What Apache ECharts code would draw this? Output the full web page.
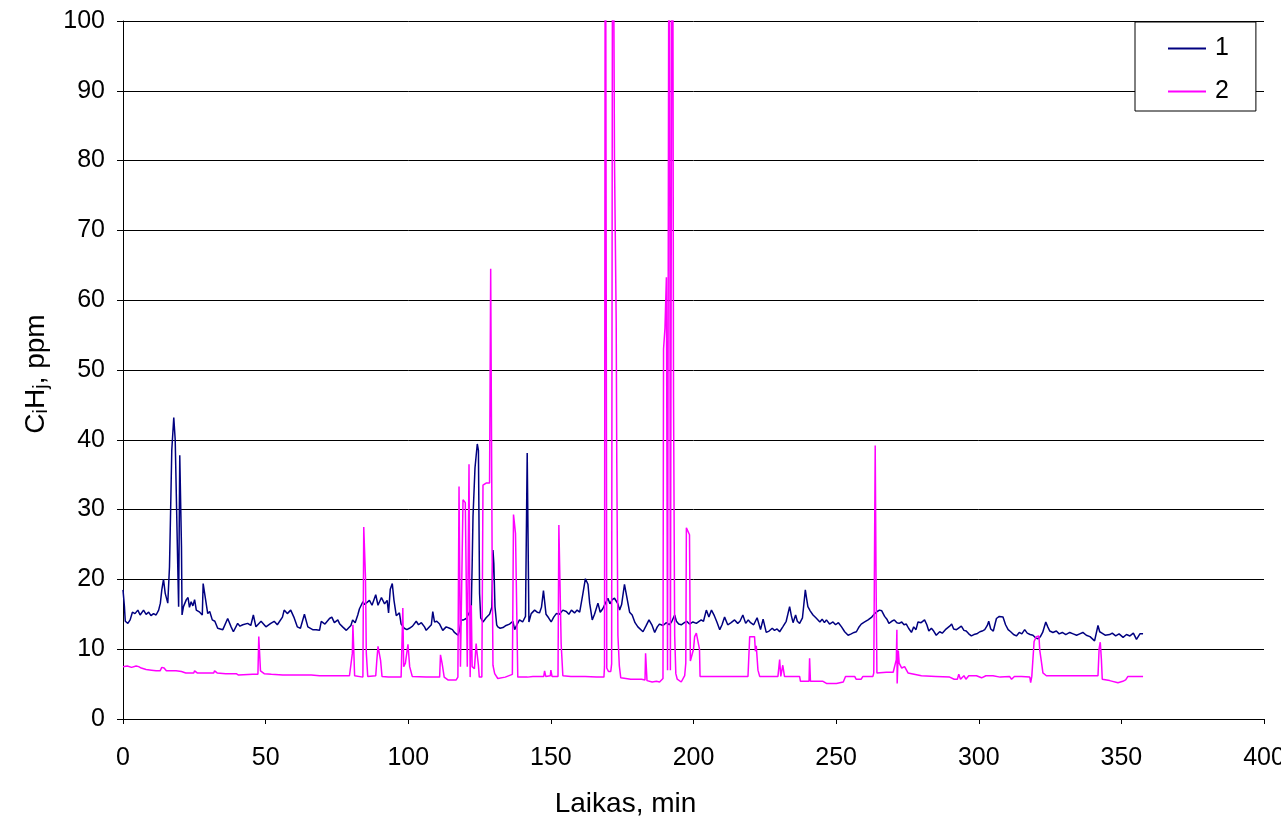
<!DOCTYPE html>
<html>
<head>
<meta charset="utf-8">
<title>CiHj, ppm</title>
<script src="https://cdn.jsdelivr.net/npm/echarts@6/dist/echarts.min.js"></script>
<style>
  html, body { margin: 0; padding: 0; background: #fff; overflow: hidden; }
  #chart { width: 1281px; height: 822px; }
</style>
</head>
<body>
<div id="chart"></div>
<script>
// Series 1: time (min) and concentration (ppm)
const t1 = [0,0.5,0.8,1.7,2.5,3.3,4.2,5.2,6.0,7.2,8.1,9.0,9.8,10.7,11.6,12.5,13.1,13.6,14.2,14.8,15.7,16.3,16.7,17.1,17.8,18.3,19.2,19.5,19.9,20.5,20.7,21.2,22.2,22.8,23.3,23.9,24.5,25.1,25.7,26.9,27.8,28.1,28.8,29.7,30.4,31.3,32.2,33.2,35.0,36.7,37.9,38.7,40.2,41.0,42.0,43.7,44.8,45.7,46.6,48.4,50.1,51.8,53.0,54.1,55.9,56.5,57.6,58.8,59.9,61.1,62.2,63.6,64.8,65.4,66.5,67.7,68.9,69.5,70.8,72.4,73.2,74.1,75.3,76.0,77.0,78.3,78.8,79.9,80.5,81.4,82.3,82.9,84.1,84.7,85.3,86.4,87.3,88.6,89.4,90.6,91.7,92.6,93.1,93.7,94.4,95.0,95.8,96.9,97.5,98.6,99.5,100.4,101.5,102.8,103.6,104.6,105.7,106.3,108.1,108.6,109.2,110.0,111.0,112.1,113.3,114.5,115.5,116.2,117.4,118.0,118.6,119.4,120.3,120.9,121.5,122.1,122.4,122.7,123.4,124.2,124.6,125.0,125.4,126.2,127.3,128.5,129.3,129.7,130.0,130.4,131.0,131.4,132.2,133.2,134.3,135.5,136.7,137.3,138.2,139.0,140.1,141.1,141.7,142.3,143.1,144.3,145.2,146.0,146.7,147.4,148.3,149.2,150.1,151.0,151.9,153.0,154.2,155.4,156.3,157.2,158.3,159.2,160.1,161.2,162.1,163.0,163.6,164.5,165.3,166.5,167.3,168.2,169.0,170.0,170.7,171.5,172.3,172.9,173.5,174.1,174.8,175.8,176.5,177.6,178.5,179.5,180.5,182.3,183.3,184.4,185.4,186.4,187.3,188.1,189.3,190.5,191.5,192.3,193.4,194.0,194.8,195.7,196.8,197.6,198.6,199.8,201.0,202.7,203.5,204.5,205.4,206.3,207.3,208.2,209.2,210.0,210.9,212.0,213.2,214.4,215.5,216.3,217.3,218.3,219.2,220.0,221.1,222.3,223.5,224.4,225.5,226.5,227.6,228.4,229.3,230.2,231.3,232.5,233.7,234.3,234.9,235.8,236.4,237.2,238.2,238.7,239.2,239.6,240.1,240.9,241.9,242.9,244.3,245.1,245.9,246.6,247.7,248.9,249.8,250.8,251.9,253.0,254.2,255.3,256.3,257.1,257.9,258.8,260.0,261.2,262.5,263.5,264.4,265.2,266.0,267.0,267.8,268.5,269.5,270.4,271.3,272.1,273.0,273.8,274.6,275.4,276.4,277.2,278.0,278.7,279.8,281.0,281.8,282.5,283.4,284.2,285.1,286.3,287.2,288.3,289.8,290.5,291.2,292.2,293.9,294.8,295.6,296.5,297.4,298.3,299.3,300.4,301.2,302.1,303.0,303.5,304.2,305.1,306.2,307.2,308.5,309.4,310.3,311.2,312.2,313.2,314.2,315.1,316.1,317.0,318.0,319.0,320.0,320.8,321.6,322.4,323.5,324.2,324.9,326.0,327.2,328.2,329.3,330.5,331.9,333.1,334.3,335.4,336.5,337.7,339.0,340.6,341.8,342.4,343.2,344.3,345.9,346.8,348.0,349.2,350.6,351.8,353.0,354.2,355.3,356.5,357.6];
const c1 = [18.5,16.1,14.0,13.7,14.2,15.3,15.1,15.6,14.9,15.6,15.0,15.3,14.8,15.1,14.9,15.6,16.6,18.5,20.0,18.0,16.6,21.8,30.0,38.5,43.2,40.0,21.8,16.1,37.8,24.7,14.9,16.1,17.1,17.4,16.0,16.8,16.2,17.1,15.6,15.3,14.9,19.4,19.4,15.1,15.4,14.2,14.0,13.0,12.8,14.4,13.2,12.5,13.7,13.3,13.5,13.7,13.4,14.9,13.2,14.0,13.2,13.7,14.0,13.5,14.6,15.6,15.1,15.6,14.6,13.2,13.0,15.0,13.2,13.3,12.8,12.8,12.7,14.0,13.6,14.4,14.6,13.8,14.2,13.6,13.2,12.7,12.8,13.4,14.2,13.8,14.9,15.8,16.8,16.4,16.2,17.0,16.3,17.8,16.3,17.4,16.5,17.0,15.2,18.6,19.4,17.0,14.8,15.2,13.6,13.0,12.8,13.0,13.3,14.0,13.5,13.8,13.2,12.7,13.5,15.4,13.9,14.0,13.6,12.7,13.2,13.0,12.8,12.4,12.0,12.7,14.2,14.2,14.4,14.3,15.3,16.1,22.0,29.0,36.0,39.4,38.5,18.0,14.5,13.9,14.5,15.0,16.0,24.2,22.3,16.1,13.5,13.2,13.0,13.1,13.4,13.6,14.0,12.8,13.6,14.2,13.9,14.7,38.1,13.9,15.1,15.6,15.3,15.2,16.0,18.4,15.0,14.5,13.9,14.6,15.1,15.0,15.6,15.4,15.0,15.6,15.2,15.6,15.3,17.9,20.1,19.3,16.6,14.2,15.0,16.6,15.3,15.8,16.5,17.3,16.5,17.1,17.3,17.3,16.5,15.6,16.4,19.3,19.2,15.3,14.9,13.8,13.2,12.5,13.3,14.2,13.5,12.4,13.2,13.6,13.4,13.8,13.5,13.9,14.9,14.0,13.6,13.5,13.8,14.0,13.6,13.9,13.7,14.2,14.0,15.6,14.6,15.6,14.8,13.9,12.8,13.5,14.6,13.5,13.8,14.2,13.7,14.0,14.9,13.7,14.2,13.8,13.5,14.5,12.8,14.3,12.4,12.6,13.0,12.7,12.9,12.5,13.2,14.0,16.1,14.8,13.8,14.9,14.0,13.7,14.5,16.5,18.5,17.4,16.1,15.5,14.9,14.5,13.9,14.3,13.8,14.2,13.6,13.9,13.5,13.8,13.2,12.5,12.0,12.2,12.4,12.5,13.1,13.6,13.9,14.2,14.6,15.1,15.4,15.6,15.5,14.7,14.3,13.7,14.0,14.2,13.8,13.7,13.9,13.5,13.6,13.0,12.4,13.2,12.8,13.9,13.8,14.2,13.5,12.6,13.0,12.6,12.0,12.5,12.3,12.8,13.3,13.6,12.9,12.8,13.3,12.7,12.6,12.2,11.9,12.1,12.2,12.5,12.6,12.8,13.4,14.0,12.9,12.6,14.4,14.7,14.6,13.5,12.8,12.5,12.1,11.9,12.4,12.2,12.8,12.3,12.1,12.0,11.6,11.5,11.8,12.4,13.9,13.2,12.6,12.4,12.6,12.2,12.4,12.1,12.4,12.2,12.0,12.2,12.4,12.0,11.8,11.2,13.4,12.5,12.3,12.0,12.1,12.3,11.9,12.2,11.7,12.1,11.9,12.3,11.4,12.2,12.2];

// Series 2: time (min) and concentration (ppm); readings above 100 run off the top of the axis
const t2 = [0,1.5,3.0,4.6,5.5,6.4,8.1,10.0,11.6,13.0,13.6,14.4,15.2,18.6,20.5,22.0,24.8,25.1,26.0,31.8,32.1,33.0,36.0,39.7,40.5,45.5,47.3,47.6,48.0,48.2,49.5,52.0,56.0,60.0,66.0,68.9,72.0,79.4,80.0,80.4,80.6,81.2,84.1,84.4,85.0,85.3,85.8,88.6,89.0,89.4,89.9,90.3,90.8,93.0,97.5,98.1,98.4,99.0,99.9,100.5,101.4,106.3,111.0,111.3,111.9,112.6,113.9,116.8,117.4,117.8,118.3,119.2,120.0,120.7,121.3,121.7,122.1,122.4,123.2,123.8,124.1,124.6,124.9,125.8,126.2,127.3,128.5,128.9,129.4,129.7,130.3,131.4,134.0,136.5,136.9,137.6,138.4,141.8,143.7,147.5,147.8,148.2,149.8,150.0,150.4,152.5,152.8,153.6,154.2,157.0,162.0,166.0,168.6,168.8,169.1,169.6,170.2,171.0,171.3,171.7,172.0,172.3,172.9,173.1,173.5,174.0,174.5,178.0,181.8,183.0,183.2,183.7,185.5,187.0,188.1,189.3,189.5,190.0,190.5,190.9,191.2,191.5,191.9,192.3,192.6,192.8,193.0,193.4,193.8,194.3,195.7,196.9,197.3,197.5,198.0,198.6,198.9,199.6,200.0,200.4,201.0,201.5,202.1,202.3,210.0,219.1,219.7,221.4,221.7,222.0,222.6,223.2,229.6,230.2,230.6,231.3,231.9,237.2,237.5,240.5,240.7,241.0,245.4,246.6,250.1,252.5,253.3,256.5,257.0,258.8,259.4,262.9,263.2,263.7,264.0,264.3,267.6,270.0,271.1,271.3,271.4,271.8,272.1,273.0,274.0,275.2,279.9,285.0,289.8,290.5,291.4,292.5,293.0,293.6,294.8,295.5,296.5,299.2,301.0,302.5,305.0,307.5,310.8,311.5,312.5,315.0,317.9,318.2,318.6,319.0,319.4,320.2,321.1,321.4,321.9,322.5,323.7,330.0,335.0,341.8,342.2,342.6,343.0,343.3,345.9,348.8,350.5,351.5,352.3,357.6];
const c2 = [7.5,7.6,7.4,7.6,7.5,7.3,7.1,7.0,6.9,6.9,7.4,7.3,6.9,6.9,6.8,6.6,6.6,6.9,6.6,6.6,6.9,6.6,6.5,6.5,6.3,6.4,6.4,11.8,11.8,6.9,6.5,6.4,6.3,6.3,6.3,6.2,6.2,6.2,6.0,9.4,13.5,6.2,6.0,27.5,20.4,9.4,6.1,6.2,8.5,10.4,10.4,8.4,6.1,6.0,6.0,15.9,7.5,8.0,10.7,7.5,6.1,6.0,6.0,9.2,7.9,6.0,5.6,5.6,6.0,33.3,7.5,31.4,31.0,7.5,36.5,6.0,16.3,7.5,7.2,10.8,9.5,7.7,6.0,6.0,33.5,33.8,33.8,64.5,23.7,7.7,6.5,5.8,6.0,6.4,29.3,26.6,6.0,6.0,6.1,6.1,6.9,6.1,6.2,7.0,6.1,6.1,27.8,10.8,6.2,6.1,6.1,6.0,6.0,7.5,145,7.3,6.8,6.8,7.9,150,110,80,57,37,12,7.6,5.9,5.7,5.7,5.6,9.4,5.5,5.3,5.4,5.3,5.8,53,56,63.3,7.0,7.0,150,7.0,7.0,150,100,46,12,6.5,5.7,5.3,6.2,8.0,27.4,27.6,26.4,8.3,8.3,10.0,11.8,12.3,12.2,10.0,6.1,6.1,6.1,11.8,11.8,9.7,10.5,7.0,6.1,6.1,8.5,6.1,7.7,6.1,6.1,5.4,5.4,8.7,5.4,5.4,5.1,5.1,5.3,6.1,6.1,5.7,5.7,6.1,6.1,6.6,39.2,20,6.6,6.7,6.7,8.5,12.8,5.1,9.8,8.0,7.3,7.5,6.6,6.2,6.1,6.0,5.8,5.7,5.7,6.4,5.7,6.2,5.7,6.2,6.2,5.9,6.2,6.2,6.0,6.1,5.7,6.1,6.1,6.0,5.2,6.1,6.1,11.1,11.8,11.9,9.8,8.4,6.6,6.2,6.2,6.2,6.2,10.1,11.0,8.5,5.7,5.5,5.2,5.4,5.6,6.1,6.1];

const seriesNames = ['1', '2'];
const seriesColors = ['#000080', '#FF00FF'];

const FONT = '"Liberation Sans", Arial, sans-serif';

const pairs = (xs, ys) => xs.map((x, i) => [x, ys[i]]);

const chart = echarts.init(document.getElementById('chart'), null, { renderer: 'canvas' });

chart.setOption({
  backgroundColor: '#ffffff',
  animation: false,
  textStyle: { fontFamily: FONT, color: '#000' },
  grid: { left: 123, right: 17, top: 21, bottom: 103, containLabel: false, outerBoundsMode: 'none' },
  legend: {
    orient: 'vertical',
    left: 1135,
    top: 22,
    padding: [14, 27, 7, 33],
    itemGap: 18,
    itemWidth: 38,
    itemHeight: 2,
    icon: 'rect',
    borderColor: '#000',
    borderWidth: 1,
    backgroundColor: '#fff',
    textStyle: { fontFamily: FONT, fontSize: 25, color: '#000', padding: [0, 0, 0, 4] },
    data: seriesNames
  },
  xAxis: {
    type: 'value',
    min: 0,
    max: 400,
    interval: 50,
    name: 'Laikas, min',
    nameLocation: 'middle',
    nameGap: 71,
    nameTextStyle: { fontFamily: FONT, fontSize: 28, color: '#000', padding: [0, 136, 0, 0] },
    axisLine: { show: true, lineStyle: { color: '#000', width: 1 } },
    axisTick: { show: true, inside: false, length: 5, lineStyle: { color: '#000' } },
    axisLabel: { fontFamily: FONT, fontSize: 25, color: '#000', margin: 27 },
    splitLine: { show: false }
  },
  yAxis: {
    type: 'value',
    min: 0,
    max: 100,
    interval: 10,
    name: '{n|C}{s|i}{n|H}{s|j}{n|, ppm}',
    nameLocation: 'middle',
    nameGap: 72,
    nameTextStyle: {
      fontFamily: FONT,
      fontSize: 28,
      color: '#000',
      padding: [0, 8, 0, 0],
      rich: {
        n: { fontFamily: FONT, fontSize: 28, color: '#000', lineHeight: 30 },
        s: { fontFamily: FONT, fontSize: 20, color: '#000', lineHeight: 12, verticalAlign: 'bottom' }
      }
    },
    axisLine: { show: true, lineStyle: { color: '#000', width: 1 } },
    axisTick: { show: true, inside: false, length: 6, lineStyle: { color: '#000' } },
    axisLabel: { fontFamily: FONT, fontSize: 25, color: '#000', margin: 18 },
    splitLine: { show: true, lineStyle: { color: '#000', width: 1 } }
  },
  series: [
    {
      name: seriesNames[0],
      type: 'line',
      data: pairs(t1, c1),
      symbol: 'none',
      clip: true,
      lineStyle: { color: seriesColors[0], width: 1.5 },
      itemStyle: { color: seriesColors[0] },
      z: 2
    },
    {
      name: seriesNames[1],
      type: 'line',
      data: pairs(t2, c2),
      symbol: 'none',
      clip: true,
      lineStyle: { color: seriesColors[1], width: 1.5 },
      itemStyle: { color: seriesColors[1] },
      z: 3
    }
  ]
});
</script>
</body>
</html>
